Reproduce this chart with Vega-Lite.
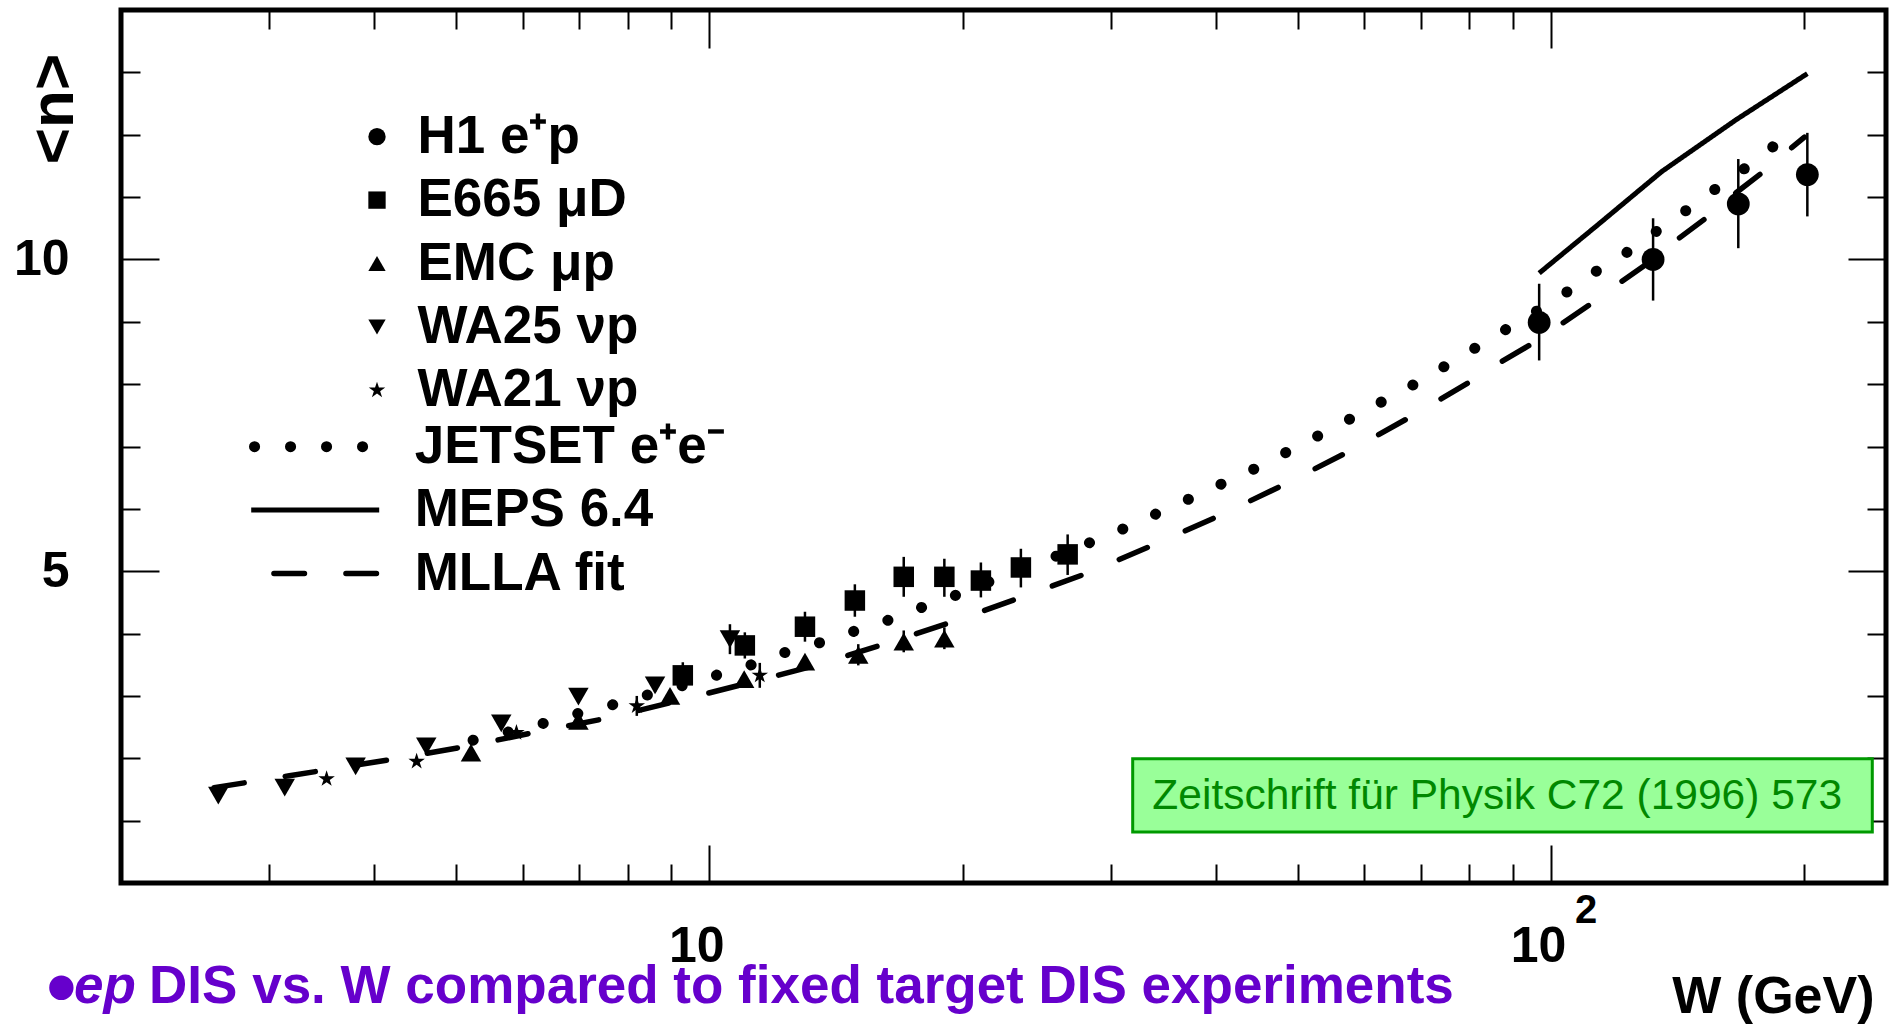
{
  "$schema": "https://vega.github.io/schema/vega-lite/v6.json",
  "width": 1765,
  "height": 873,
  "autosize": {"type": "none"},
  "padding": {"left": 121, "top": 10, "right": 10, "bottom": 141},
  "background": "white",
  "config": {
    "font": "Liberation Sans",
    "view": {"stroke": "black", "strokeWidth": 5},
    "axis": {"domain": false, "grid": false, "tickColor": "black", "tickWidth": 2, "labelFont": "Liberation Sans", "labelFontWeight": "bold", "labelFontSize": 50, "labelColor": "black", "titleFont": "Liberation Sans", "titleFontWeight": "bold", "titleColor": "black"},
    "legend": {"labelLimit": 1000, "labelFont": "Liberation Sans", "labelFontWeight": "bold", "labelFontSize": 53, "labelColor": "black", "padding": 0}
  },
  "datasets": {
    "points": [
      {"exp": "H1 e⁺p", "W": 96.8, "n": 8.99, "lo": 8.38, "hi": 9.61},
      {"exp": "H1 e⁺p", "W": 132.2, "n": 10.0, "lo": 9.34, "hi": 10.66},
      {"exp": "H1 e⁺p", "W": 166.9, "n": 10.89, "lo": 10.18, "hi": 11.61},
      {"exp": "H1 e⁺p", "W": 201.6, "n": 11.36, "lo": 10.69, "hi": 12.03},
      {"exp": "E665 μD", "W": 9.30, "n": 3.33, "lo": 3.12, "hi": 3.54},
      {"exp": "E665 μD", "W": 11.02, "n": 3.81, "lo": 3.60, "hi": 4.02},
      {"exp": "E665 μD", "W": 12.99, "n": 4.11, "lo": 3.87, "hi": 4.35},
      {"exp": "E665 μD", "W": 14.89, "n": 4.53, "lo": 4.27, "hi": 4.79},
      {"exp": "E665 μD", "W": 17.02, "n": 4.91, "lo": 4.59, "hi": 5.23},
      {"exp": "E665 μD", "W": 19.02, "n": 4.91, "lo": 4.59, "hi": 5.20},
      {"exp": "E665 μD", "W": 21.02, "n": 4.85, "lo": 4.58, "hi": 5.14},
      {"exp": "E665 μD", "W": 23.45, "n": 5.06, "lo": 4.74, "hi": 5.36},
      {"exp": "E665 μD", "W": 26.65, "n": 5.27, "lo": 4.94, "hi": 5.59},
      {"exp": "EMC μp", "W": 5.21, "n": 2.09},
      {"exp": "EMC μp", "W": 6.99, "n": 2.60},
      {"exp": "EMC μp", "W": 8.98, "n": 3.00},
      {"exp": "EMC μp", "W": 11.0, "n": 3.27},
      {"exp": "EMC μp", "W": 12.99, "n": 3.55},
      {"exp": "EMC μp", "W": 15.03, "n": 3.66, "lo": 3.49, "hi": 3.83},
      {"exp": "EMC μp", "W": 17.02, "n": 3.87, "lo": 3.70, "hi": 4.05},
      {"exp": "EMC μp", "W": 19.02, "n": 3.92, "lo": 3.75, "hi": 4.10},
      {"exp": "WA25 νp", "W": 2.61, "n": 1.40},
      {"exp": "WA25 νp", "W": 3.13, "n": 1.53},
      {"exp": "WA25 νp", "W": 3.80, "n": 1.87},
      {"exp": "WA25 νp", "W": 4.61, "n": 2.19},
      {"exp": "WA25 νp", "W": 5.66, "n": 2.56},
      {"exp": "WA25 νp", "W": 6.99, "n": 2.99},
      {"exp": "WA25 νp", "W": 8.62, "n": 3.17, "lo": 3.06, "hi": 3.28},
      {"exp": "WA25 νp", "W": 10.58, "n": 3.91, "lo": 3.67, "hi": 4.15},
      {"exp": "WA21 νp", "W": 3.51, "n": 1.67},
      {"exp": "WA21 νp", "W": 4.49, "n": 1.95},
      {"exp": "WA21 νp", "W": 5.90, "n": 2.41},
      {"exp": "WA21 νp", "W": 8.20, "n": 2.84, "lo": 2.68, "hi": 3.00},
      {"exp": "WA21 νp", "W": 11.48, "n": 3.33, "lo": 3.13, "hi": 3.53}
    ],
    "curves": [
      {"model": "JETSET e⁺e⁻", "W": 5.24, "n": 2.29},
      {"model": "JETSET e⁺e⁻", "W": 5.76, "n": 2.42},
      {"model": "JETSET e⁺e⁻", "W": 6.35, "n": 2.56},
      {"model": "JETSET e⁺e⁻", "W": 6.99, "n": 2.72},
      {"model": "JETSET e⁺e⁻", "W": 7.68, "n": 2.86},
      {"model": "JETSET e⁺e⁻", "W": 8.41, "n": 3.01},
      {"model": "JETSET e⁺e⁻", "W": 9.26, "n": 3.16},
      {"model": "JETSET e⁺e⁻", "W": 10.18, "n": 3.33},
      {"model": "JETSET e⁺e⁻", "W": 11.17, "n": 3.49},
      {"model": "JETSET e⁺e⁻", "W": 12.25, "n": 3.69},
      {"model": "JETSET e⁺e⁻", "W": 13.5, "n": 3.85},
      {"model": "JETSET e⁺e⁻", "W": 14.8, "n": 4.03},
      {"model": "JETSET e⁺e⁻", "W": 16.2, "n": 4.20},
      {"model": "JETSET e⁺e⁻", "W": 17.8, "n": 4.41},
      {"model": "JETSET e⁺e⁻", "W": 19.5, "n": 4.60},
      {"model": "JETSET e⁺e⁻", "W": 21.4, "n": 4.82},
      {"model": "JETSET e⁺e⁻", "W": 25.7, "n": 5.23},
      {"model": "JETSET e⁺e⁻", "W": 28.1, "n": 5.44},
      {"model": "JETSET e⁺e⁻", "W": 30.8, "n": 5.66},
      {"model": "JETSET e⁺e⁻", "W": 33.7, "n": 5.90},
      {"model": "JETSET e⁺e⁻", "W": 36.9, "n": 6.14},
      {"model": "JETSET e⁺e⁻", "W": 40.3, "n": 6.38},
      {"model": "JETSET e⁺e⁻", "W": 44.1, "n": 6.62},
      {"model": "JETSET e⁺e⁻", "W": 48.2, "n": 6.89},
      {"model": "JETSET e⁺e⁻", "W": 52.5, "n": 7.15},
      {"model": "JETSET e⁺e⁻", "W": 57.3, "n": 7.42},
      {"model": "JETSET e⁺e⁻", "W": 62.4, "n": 7.69},
      {"model": "JETSET e⁺e⁻", "W": 68.0, "n": 7.96},
      {"model": "JETSET e⁺e⁻", "W": 74.0, "n": 8.25},
      {"model": "JETSET e⁺e⁻", "W": 80.6, "n": 8.55},
      {"model": "JETSET e⁺e⁻", "W": 87.7, "n": 8.85},
      {"model": "JETSET e⁺e⁻", "W": 95.3, "n": 9.14},
      {"model": "JETSET e⁺e⁻", "W": 103.5, "n": 9.44},
      {"model": "JETSET e⁺e⁻", "W": 112.2, "n": 9.78},
      {"model": "JETSET e⁺e⁻", "W": 122.1, "n": 10.08},
      {"model": "JETSET e⁺e⁻", "W": 132.4, "n": 10.42},
      {"model": "JETSET e⁺e⁻", "W": 143.2, "n": 10.74},
      {"model": "JETSET e⁺e⁻", "W": 154.9, "n": 11.08},
      {"model": "JETSET e⁺e⁻", "W": 168.0, "n": 11.41},
      {"model": "JETSET e⁺e⁻", "W": 181.6, "n": 11.76},
      {"model": "JETSET e⁺e⁻", "W": 196.3, "n": 12.11},
      {"model": "MEPS 6.4", "W": 96.8, "n": 9.78},
      {"model": "MEPS 6.4", "W": 114.0, "n": 10.57},
      {"model": "MEPS 6.4", "W": 135.4, "n": 11.41},
      {"model": "MEPS 6.4", "W": 165.9, "n": 12.24},
      {"model": "MEPS 6.4", "W": 201.6, "n": 12.98},
      {"model": "MLLA fit", "W": 2.58, "n": 1.53},
      {"model": "MLLA fit", "W": 3.17, "n": 1.72},
      {"model": "MLLA fit", "W": 4.23, "n": 1.99},
      {"model": "MLLA fit", "W": 5.14, "n": 2.19},
      {"model": "MLLA fit", "W": 6.23, "n": 2.42},
      {"model": "MLLA fit", "W": 7.54, "n": 2.64},
      {"model": "MLLA fit", "W": 9.17, "n": 2.92},
      {"model": "MLLA fit", "W": 11.0, "n": 3.19},
      {"model": "MLLA fit", "W": 13.39, "n": 3.49},
      {"model": "MLLA fit", "W": 16.13, "n": 3.83},
      {"model": "MLLA fit", "W": 19.45, "n": 4.19},
      {"model": "MLLA fit", "W": 23.45, "n": 4.58},
      {"model": "MLLA fit", "W": 28.14, "n": 4.97},
      {"model": "MLLA fit", "W": 33.68, "n": 5.42},
      {"model": "MLLA fit", "W": 40.34, "n": 5.89},
      {"model": "MLLA fit", "W": 48.19, "n": 6.39},
      {"model": "MLLA fit", "W": 57.3, "n": 6.91},
      {"model": "MLLA fit", "W": 67.96, "n": 7.47},
      {"model": "MLLA fit", "W": 80.6, "n": 8.06},
      {"model": "MLLA fit", "W": 87.5, "n": 8.37},
      {"model": "MLLA fit", "W": 95.3, "n": 8.66},
      {"model": "MLLA fit", "W": 103.5, "n": 8.99},
      {"model": "MLLA fit", "W": 111.9, "n": 9.30},
      {"model": "MLLA fit", "W": 121.4, "n": 9.65},
      {"model": "MLLA fit", "W": 132.2, "n": 10.0},
      {"model": "MLLA fit", "W": 141.9, "n": 10.34},
      {"model": "MLLA fit", "W": 153.4, "n": 10.68},
      {"model": "MLLA fit", "W": 165.9, "n": 11.07},
      {"model": "MLLA fit", "W": 179.3, "n": 11.42},
      {"model": "MLLA fit", "W": 192.3, "n": 11.77},
      {"model": "MLLA fit", "W": 200.0, "n": 11.96}
    ]
  },
  "resolve": {"axis": {"x": "independent", "y": "independent"}},
  "layer": [
    {
      "data": {"values": [{}]},
      "mark": {"type": "rect", "fill": "#99FF99", "stroke": "#009900", "strokeWidth": 3},
      "encoding": {
        "x": {"datum": 31.84, "type": "quantitative", "scale": {"type": "log", "domain": [2, 250], "nice": false}, "axis": null},
        "x2": {"datum": 240.8},
        "y": {"datum": 1.993, "type": "quantitative", "scale": {"domain": [0, 14], "zero": false, "nice": false}, "axis": null},
        "y2": {"datum": 0.818}
      }
    },
    {
      "data": {"values": [{}]},
      "mark": {"type": "text", "text": "Zeitschrift für Physik C72 (1996) 573", "font": "Liberation Sans", "fontSize": 42.5, "color": "#008800", "align": "left", "baseline": "alphabetic"},
      "encoding": {
        "x": {"datum": 33.6, "type": "quantitative", "axis": null},
        "y": {"datum": 1.187, "type": "quantitative", "axis": null}
      }
    },
    {
      "data": {"name": "curves"},
      "transform": [{"filter": "datum.model == 'JETSET e⁺e⁻'"}],
      "mark": {"type": "line", "color": "black", "strokeWidth": 11, "strokeCap": "round"},
      "encoding": {
        "x": {"field": "W", "type": "quantitative", "axis": null},
        "y": {"field": "n", "type": "quantitative", "axis": null},
        "strokeDash": {
          "field": "model", "type": "nominal",
          "scale": {"domain": ["JETSET e⁺e⁻", "MEPS 6.4", "MLLA fit"], "range": [[0.1, 35.9], [1, 0], [30.5, 41.5]]},
          "legend": {
            "title": null, "orient": "none", "legendX": 167.7, "legendY": 410.2,
            "symbolType": "stroke", "symbolSize": 16384, "symbolStrokeColor": "black", "symbolStrokeWidth": 5,
            "rowPadding": 9.4, "labelOffset": 73, "padding": 0,
            "encode": {"symbols": {"update": {
              "strokeWidth": {"signal": "datum.value == 'MEPS 6.4' ? 5 : (datum.value == 'MLLA fit' ? 5.5 : 11)"},
              "strokeCap": {"signal": "datum.value == 'MEPS 6.4' ? 'butt' : 'round'"},
              "strokeDashOffset": {"signal": "datum.value == 'MLLA fit' ? 49.25 : -3.3"},
              "fill": {"value": "transparent"},
              "stroke": {"value": "black"}
            }}}
          }
        }
      }
    },
    {
      "data": {"name": "curves"},
      "transform": [{"filter": "datum.model == 'MEPS 6.4'"}],
      "mark": {"type": "line", "color": "black", "strokeWidth": 5},
      "encoding": {
        "x": {"field": "W", "type": "quantitative", "axis": {"orient": "top", "values": [3,4,5,6,7,8,9,10,20,30,40,50,60,70,80,90,100,200], "tickSize": {"condition": {"test": "datum.value == 10 || datum.value == 100", "value": -38}, "value": -19}, "labels": false, "title": null}},
        "y": {"field": "n", "type": "quantitative", "axis": {"orient": "right", "values": [1,2,3,4,5,6,7,8,9,10,11,12,13], "tickSize": {"condition": {"test": "datum.value == 5 || datum.value == 10", "value": -38}, "value": -19}, "labels": false, "title": null}},
        "strokeDash": {"field": "model", "type": "nominal"}
      }
    },
    {
      "data": {"name": "curves"},
      "transform": [{"filter": "datum.model == 'MLLA fit'"}],
      "mark": {"type": "line", "color": "black", "strokeWidth": 5.5, "strokeCap": "round"},
      "encoding": {
        "x": {"field": "W", "type": "quantitative", "axis": null},
        "y": {"field": "n", "type": "quantitative", "axis": null},
        "strokeDash": {"field": "model", "type": "nominal"}
      }
    },
    {
      "data": {"name": "points"},
      "transform": [{"filter": "isValid(datum.lo)"}],
      "mark": {"type": "rule", "color": "black", "strokeWidth": 2.5},
      "encoding": {
        "x": {"field": "W", "type": "quantitative", "axis": null},
        "y": {"field": "lo", "type": "quantitative", "axis": null},
        "y2": {"field": "hi"}
      }
    },
    {
      "data": {"name": "points"},
      "transform": [{"filter": "datum.exp == 'H1 e⁺p'"}],
      "mark": {"type": "point", "filled": true, "color": "black", "opacity": 1, "strokeWidth": 0, "size": 520},
      "encoding": {
        "x": {"field": "W", "type": "quantitative", "axis": {
          "orient": "bottom", "values": [3,4,5,6,7,8,9,10,20,30,40,50,60,70,80,90,100,200],
          "tickSize": {"condition": {"test": "datum.value == 10 || datum.value == 100", "value": -38}, "value": -19},
          "labelExpr": "(datum.value == 10 || datum.value == 100) ? '10' : ''",
          "labelPadding": 116, "labelBaseline": "alphabetic", "labelAlign": "center", "labelOffset": -13,
          "labelFlush": false, "labelOverlap": false,
          "title": "W (GeV)", "titleFontSize": 52, "titleAlign": "right", "titleBaseline": "alphabetic", "titleX": 1753, "titleY": 129
        }},
        "y": {"field": "n", "type": "quantitative", "axis": {
          "orient": "left", "values": [1,2,3,4,5,6,7,8,9,10,11,12,13],
          "tickSize": {"condition": {"test": "datum.value == 5 || datum.value == 10", "value": -38}, "value": -19},
          "labelExpr": "(datum.value == 5 || datum.value == 10) ? datum.label : ''",
          "labelPadding": 90, "labelBaseline": "middle", "labelAlign": "right", "labelOverlap": false,
          "title": "<n>", "titleFontSize": 62, "titleAngle": 270, "titleX": -49, "titleY": 98.5, "titleAlign": "center", "titleBaseline": "alphabetic"
        }},
        "shape": {
          "field": "exp", "type": "nominal",
          "scale": {"domain": ["H1 e⁺p", "E665 μD", "EMC μp", "WA25 νp", "WA21 νp"], "range": ["circle", "square", "triangle-up", "triangle-down", "M0,-1L0.2245,-0.309L0.9511,-0.309L0.3633,0.118L0.5878,0.809L0,0.382L-0.5878,0.809L-0.3633,0.118L-0.9511,-0.309L-0.2245,-0.309Z"]},
          "legend": {"title": null, "orient": "none", "legendX": 229.5, "legendY": 100.2, "symbolSize": 300, "symbolFillColor": "black", "symbolStrokeColor": "black", "symbolStrokeWidth": 0, "symbolOpacity": 1, "rowPadding": 9.4, "labelOffset": 14, "padding": 0}
        }
      }
    },
    {
      "data": {"name": "points"},
      "transform": [{"filter": "datum.exp == 'E665 μD' || datum.exp == 'EMC μp' || datum.exp == 'WA25 νp'"}],
      "mark": {"type": "point", "filled": true, "color": "black", "opacity": 1, "strokeWidth": 0, "size": 420},
      "encoding": {
        "x": {"field": "W", "type": "quantitative", "axis": null},
        "y": {"field": "n", "type": "quantitative", "axis": null},
        "shape": {"field": "exp", "type": "nominal"}
      }
    },
    {
      "data": {"name": "points"},
      "transform": [{"filter": "datum.exp == 'WA21 νp'"}],
      "mark": {"type": "point", "filled": true, "color": "black", "opacity": 1, "strokeWidth": 0, "size": 300},
      "encoding": {
        "x": {"field": "W", "type": "quantitative", "axis": null},
        "y": {"field": "n", "type": "quantitative", "axis": null},
        "shape": {"field": "exp", "type": "nominal"}
      }
    },
    {
      "data": {"values": [{}]},
      "mark": {"type": "text", "text": "2", "font": "Liberation Sans", "fontSize": 40, "fontWeight": "bold", "color": "black", "align": "center", "baseline": "alphabetic", "dx": 35, "dy": 40},
      "encoding": {
        "x": {"datum": 100, "type": "quantitative", "axis": null},
        "y": {"datum": 0, "type": "quantitative", "axis": null}
      }
    },
    {
      "data": {"values": [{}]},
      "mark": {"type": "text", "text": "•", "font": "Liberation Sans", "fontSize": 85, "fontWeight": "bold", "color": "#6600CC", "align": "center", "baseline": "alphabetic"},
      "encoding": {
        "x": {"datum": 1.6985, "type": "quantitative", "axis": null},
        "y": {"datum": -2.13, "type": "quantitative", "axis": null}
      }
    },
    {
      "data": {"values": [{}]},
      "mark": {"type": "text", "text": "ep", "font": "Liberation Sans", "fontSize": 53, "fontWeight": "bold", "fontStyle": "italic", "color": "#6600CC", "align": "left", "baseline": "alphabetic"},
      "encoding": {
        "x": {"datum": 1.759, "type": "quantitative", "axis": null},
        "y": {"datum": -1.929, "type": "quantitative", "axis": null}
      }
    },
    {
      "data": {"values": [{}]},
      "mark": {"type": "text", "text": "DIS vs. W compared to fixed target DIS experiments", "font": "Liberation Sans", "fontSize": 53, "fontWeight": "bold", "color": "#6600CC", "align": "left", "baseline": "alphabetic"},
      "encoding": {
        "x": {"datum": 2.1597, "type": "quantitative", "axis": null},
        "y": {"datum": -1.929, "type": "quantitative", "axis": null}
      }
    }
  ]
}
